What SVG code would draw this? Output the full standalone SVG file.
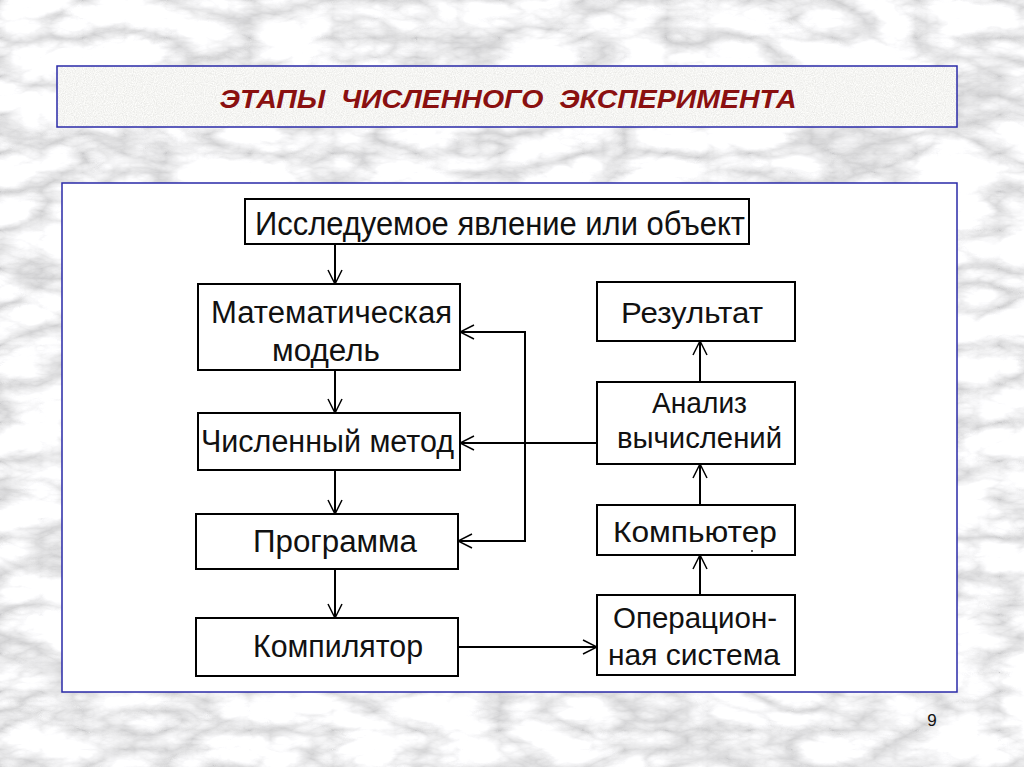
<svg xmlns="http://www.w3.org/2000/svg" width="1024" height="767" viewBox="0 0 1024 767">
  <defs>
    <filter id="marble" x="0" y="0" width="100%" height="100%" filterUnits="userSpaceOnUse">
      <feTurbulence type="turbulence" baseFrequency="0.012 0.026" numOctaves="5" seed="11" result="t"/>
      <feColorMatrix in="t" type="matrix" values="0.9 0 0 0 0.60  0.9 0 0 0 0.60  0.9 0 0 0 0.61  0 0 0 0 1"/>
    </filter>
    <filter id="speckle" x="0" y="0" width="100%" height="100%">
      <feTurbulence type="fractalNoise" baseFrequency="0.9" numOctaves="2" seed="3" result="n"/>
      <feColorMatrix in="n" type="matrix" values="0.3 0 0 0 0.76  0.3 0 0 0 0.76  0.3 0 0 0 0.74  0 0 0 0 1"/>
    </filter>
    <marker id="arr" viewBox="0 0 16 16" refX="15" refY="8" markerWidth="16" markerHeight="16" markerUnits="userSpaceOnUse" orient="auto">
      <path d="M1,1 L15,8 L1,15" fill="none" stroke="#000" stroke-width="1.5"/>
    </marker>
    <style>
      .box { fill: #fff; stroke: #000; stroke-width: 2; }
      .lbl { font-family: "Liberation Sans", Arial, sans-serif; fill: #111; }
      .con { fill: none; stroke: #000; stroke-width: 2; }
      .panel { stroke: #2a2aa8; stroke-width: 1.5; }
    </style>
  </defs>

  <!-- background -->
  <rect x="0" y="0" width="1024" height="767" fill="#e6e6e6"/>
  <rect x="0" y="0" width="1024" height="767" filter="url(#marble)"/>

  <!-- title bar -->
  <g id="title">
    <rect x="57" y="66" width="900" height="61" filter="url(#speckle)"/>
    <rect x="57" y="66" width="900" height="61" class="panel" fill="none"/>
    <text x="508" y="108" text-anchor="middle" font-family="'Liberation Sans', Arial, sans-serif" font-size="25" font-weight="bold" font-style="italic" fill="#8a1010" textLength="577" lengthAdjust="spacingAndGlyphs" xml:space="preserve">ЭТАПЫ  ЧИСЛЕННОГО  ЭКСПЕРИМЕНТА</text>
  </g>

  <!-- main panel -->
  <rect x="62" y="183" width="895" height="509" fill="#fff" class="panel"/>

  <!-- nodes -->
  <g id="n-object">
    <rect class="box" x="245" y="199" width="504" height="45"/>
    <text class="lbl" x="255" y="235" font-size="34" textLength="490" lengthAdjust="spacingAndGlyphs">Исследуемое явление или объект</text>
  </g>
  <g id="n-model">
    <rect class="box" x="198" y="284" width="262" height="86"/>
    <text class="lbl" x="211" y="323" font-size="31" textLength="241" lengthAdjust="spacingAndGlyphs">Математическая</text>
    <text class="lbl" x="272" y="361" font-size="31" textLength="108" lengthAdjust="spacingAndGlyphs">модель</text>
  </g>
  <g id="n-method">
    <rect class="box" x="198" y="413" width="262" height="57"/>
    <text class="lbl" x="201" y="452" font-size="31" textLength="253" lengthAdjust="spacingAndGlyphs">Численный метод</text>
  </g>
  <g id="n-program">
    <rect class="box" x="196" y="514" width="262" height="55"/>
    <text class="lbl" x="253" y="552" font-size="31" textLength="164" lengthAdjust="spacingAndGlyphs">Программа</text>
  </g>
  <g id="n-compiler">
    <rect class="box" x="196" y="618" width="262" height="58"/>
    <text class="lbl" x="253" y="657" font-size="31" textLength="170" lengthAdjust="spacingAndGlyphs">Компилятор</text>
  </g>
  <g id="n-result">
    <rect class="box" x="597" y="282" width="198" height="59"/>
    <text class="lbl" x="621" y="323" font-size="30" textLength="142" lengthAdjust="spacingAndGlyphs">Результат</text>
  </g>
  <g id="n-analysis">
    <rect class="box" x="597" y="382" width="198" height="82"/>
    <text class="lbl" x="652" y="413" font-size="30" textLength="95" lengthAdjust="spacingAndGlyphs">Анализ</text>
    <text class="lbl" x="617" y="448" font-size="30" textLength="165" lengthAdjust="spacingAndGlyphs">вычислений</text>
  </g>
  <g id="n-computer">
    <rect class="box" x="597" y="505" width="198" height="50"/>
    <text class="lbl" x="613" y="542" font-size="30" textLength="164" lengthAdjust="spacingAndGlyphs">Компьютер</text>
    <circle cx="752" cy="551" r="1" fill="#222"/>
  </g>
  <g id="n-os">
    <rect class="box" x="597" y="595" width="198" height="80"/>
    <text class="lbl" x="613" y="628" font-size="30" textLength="164" lengthAdjust="spacingAndGlyphs">Операцион-</text>
    <text class="lbl" x="608" y="665" font-size="30" textLength="172" lengthAdjust="spacingAndGlyphs">ная система</text>
  </g>

  <!-- connectors -->
  <g id="connectors">
    <line class="con" x1="335" y1="244" x2="335" y2="284" marker-end="url(#arr)"/>
    <line class="con" x1="335" y1="370" x2="335" y2="413" marker-end="url(#arr)"/>
    <line class="con" x1="335" y1="470" x2="335" y2="514" marker-end="url(#arr)"/>
    <line class="con" x1="335" y1="569" x2="335" y2="618" marker-end="url(#arr)"/>
    <line class="con" x1="458" y1="647" x2="597" y2="647" marker-end="url(#arr)"/>
    <line class="con" x1="700" y1="595" x2="700" y2="555" marker-end="url(#arr)"/>
    <line class="con" x1="700" y1="505" x2="700" y2="464" marker-end="url(#arr)"/>
    <line class="con" x1="700" y1="382" x2="700" y2="341" marker-end="url(#arr)"/>
    <line class="con" x1="597" y1="443" x2="460" y2="443" marker-end="url(#arr)"/>
    <polyline class="con" points="525,443 525,332 460,332" marker-end="url(#arr)"/>
    <polyline class="con" points="525,443 525,541 458,541" marker-end="url(#arr)"/>
  </g>

  <text x="932" y="726" text-anchor="middle" font-family="'Liberation Sans', Arial, sans-serif" font-size="17" fill="#111">9</text>
</svg>
